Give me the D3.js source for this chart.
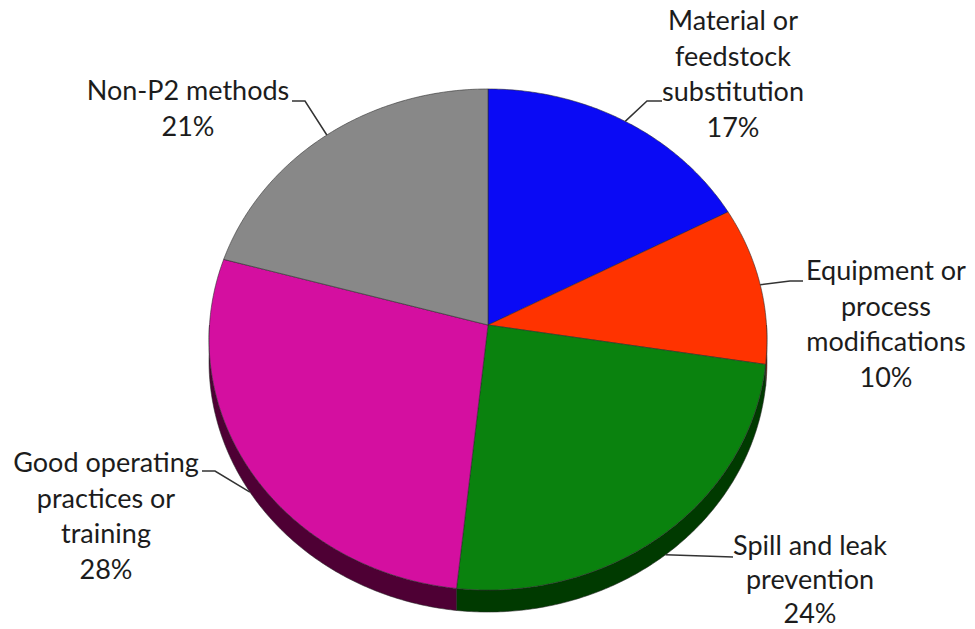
<!DOCTYPE html>
<html>
<head>
<meta charset="utf-8">
<script src="https://cdn.jsdelivr.net/npm/d3@7"></script>
<style>
  html, body { margin:0; padding:0; background:#fff; }
  svg { display:block; }
  .lbl { font-family: Lato, "Open Sans", sans-serif; font-size:27px; fill:#1c1c1c; }
  .leader { fill:none; stroke:#333; stroke-width:1.5; }
  .edge { stroke:#2a2a2a; stroke-width:0.8; stroke-opacity:0.7; }
</style>
</head>
<body>
<svg id="chart" width="975" height="629"></svg>
<script>
// --- Data ---
const categories = [
  "Material or feedstock substitution",
  "Equipment or process modifications",
  "Spill and leak prevention",
  "Good operating practices or training",
  "Non-P2 methods"
];
const shares = [17.3, 10.2, 24.2, 27.6, 20.7];   // percent, clockwise from 12 o'clock
const labelLines = [
  ["Material or", "feedstock", "substitution"],
  ["Equipment or", "process", "modifications"],
  ["Spill and leak", "prevention"],
  ["Good operating", "practices or", "training"],
  ["Non-P2 methods"]
];

// --- Styles ---
const topColors  = ["#0a0af5", "#ff3300", "#0a820e", "#d40fa0", "#888888"];
const sideColors = ["#00006a", "#7a1800", "#003a00", "#4e0034", "#3c3c3c"];

// --- Layout (label anchors + leader elbows) ---
const labelLayout = [
  { x:733, y:30,  lh:35.6, leader:[[662,101],[647,101]] },
  { x:886, y:280, lh:35.6, leader:[[803,281],[790,281]] },
  { x:810, y:555, lh:34,   leader:[[733,557]] },
  { x:106, y:472, lh:35.6, leader:[[202,471],[215,471]] },
  { x:188, y:100, lh:35.6, leader:[[292,101],[305,101]] }
];

// tilted pie geometry (simple perspective)
const cx = 488, cy = 325, R = 278.5, Rt = 249.7, persp = 0.0579, depth = 22;
function proj(a){
  const u = Math.sin(a), v = -Math.cos(a), s = 1/(1 - persp*v);
  return [cx + R*u*s, cy + Rt*v*s];
}
function arcPts(a0, a1){
  const n = Math.max(2, Math.ceil((a1-a0)/0.01));
  return d3.range(n+1).map(i => proj(a0 + (a1-a0)*i/n));
}

const svg = d3.select("#chart");
const data = categories.map((c,i) => ({ name:c, value:shares[i], i }));
const arcs = d3.pie().sort(null).value(d => d.value)(data);
const line = d3.line();

// side walls (front half only: angles between PI/2 and 3PI/2)
const gSide = svg.append("g");
arcs.forEach(a => {
  const b0 = Math.max(a.startAngle, Math.PI/2), b1 = Math.min(a.endAngle, 3*Math.PI/2);
  if (b1 <= b0) return;
  const top = arcPts(b0, b1);
  const bot = top.map(([x,y]) => [x, y+depth]).reverse();
  gSide.append("path")
    .attr("d", line(top.concat(bot)) + "Z")
    .attr("fill", sideColors[a.data.i])
    .attr("class", "edge");
});

// top faces
const gTop = svg.append("g");
gTop.selectAll("path").data(arcs).join("path")
  .attr("d", a => line([[cx,cy]].concat(arcPts(a.startAngle, a.endAngle))) + "Z")
  .attr("fill", a => topColors[a.data.i])
  .attr("class", "edge");

// leaders + labels
const gLbl = svg.append("g");
arcs.forEach(a => {
  const i = a.data.i, L = labelLayout[i];
  const mid = (a.startAngle + a.endAngle)/2;
  let p = proj(mid);
  if (Math.cos(mid) < 0) p = [p[0], p[1] + depth];
  gLbl.append("path").attr("class","leader").attr("d", line(L.leader.concat([p])));

  const t = gLbl.append("text").attr("class","lbl").attr("text-anchor","middle");
  const rows = labelLines[i].concat([Math.round(a.data.value) + "%"]);
  rows.forEach((s, k) => {
    t.append("tspan").attr("x", L.x).attr("y", L.y + k*L.lh).text(s);
  });
});
</script>
</body>
</html>
